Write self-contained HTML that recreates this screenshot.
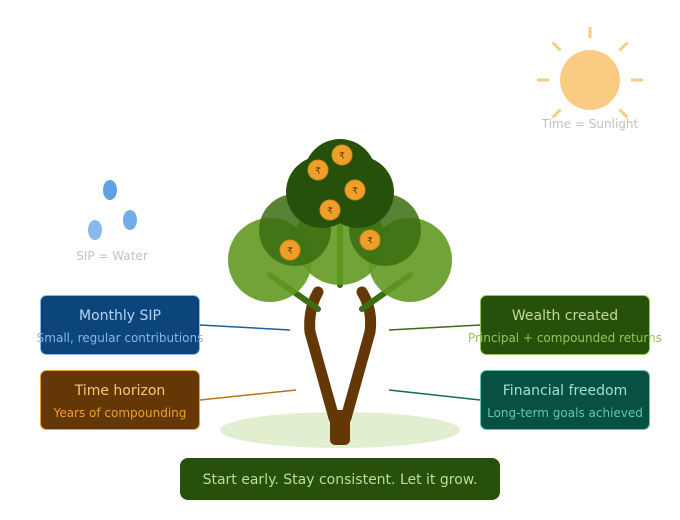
<!DOCTYPE html>
<html>
<head>
<meta charset="utf-8">
<style>
  html,body{margin:0;padding:0;background:#ffffff;}
  svg{display:block;}
  text{font-family:"DejaVu Sans","Liberation Sans",sans-serif;}
</style>
</head>
<body>
<svg width="680" height="520" viewBox="0 0 680 520" xmlns="http://www.w3.org/2000/svg">
  <!-- Sun -->
  <g stroke="#fac775" stroke-width="3" stroke-linecap="butt" opacity="0.9">
    <line x1="590" y1="27" x2="590" y2="38"/>
    <line x1="537" y1="80" x2="549" y2="80"/>
    <line x1="631" y1="80" x2="643" y2="80"/>
    <line x1="552.5" y1="42.5" x2="560.5" y2="50.5"/>
    <line x1="627.5" y1="42.5" x2="619.5" y2="50.5"/>
    <line x1="552.5" y1="117.5" x2="560.5" y2="109.5"/>
    <line x1="627.5" y1="117.5" x2="619.5" y2="109.5"/>
  </g>
  <circle cx="590" cy="80" r="30" fill="#fac775" opacity="0.9"/>
  <text x="590" y="128" font-size="12" fill="#c4c2ba" text-anchor="middle">Time = Sunlight</text>

  <!-- Water drops -->
  <ellipse cx="110" cy="190" rx="7" ry="10" fill="#378add" opacity="0.8"/>
  <ellipse cx="130" cy="220" rx="7" ry="10" fill="#378add" opacity="0.7"/>
  <ellipse cx="95" cy="230" rx="7" ry="10" fill="#378add" opacity="0.6"/>
  <text x="112" y="260" font-size="12" fill="#c4c2ba" text-anchor="middle">SIP = Water</text>

  <!-- Ground -->
  <ellipse cx="340" cy="430" rx="120" ry="18" fill="#e1efd0"/>

  <!-- Trunk -->
  <rect x="330" y="410" width="20" height="35" rx="5" fill="#633806"/>
  <g fill="none" stroke="#633806" stroke-width="11" stroke-linecap="round" stroke-linejoin="round">
    <path d="M318 292 Q308 310 310 332 L334 418"/>
    <path d="M362 292 Q373 310 370 332 L346 418"/>
  </g>

  <!-- Twigs -->
  <g stroke="#3b6d11" stroke-width="6" stroke-linecap="round">
    <line x1="270" y1="275" x2="318" y2="309"/>
    <line x1="410" y1="275" x2="362" y2="309"/>
    <line x1="340" y1="215" x2="340" y2="285"/>
  </g>

  <!-- Leaves -->
  <circle cx="270" cy="260" r="42" fill="#639922" opacity="0.9"/>
  <circle cx="410" cy="260" r="42" fill="#639922" opacity="0.9"/>
  <circle cx="340" cy="240" r="45" fill="#639922" opacity="0.9"/>
  <circle cx="295" cy="230" r="36" fill="#3b6d11" opacity="0.85"/>
  <circle cx="385" cy="230" r="36" fill="#3b6d11" opacity="0.85"/>
  <circle cx="322" cy="192" r="36" fill="#27500a"/>
  <circle cx="358" cy="192" r="36" fill="#27500a"/>
  <circle cx="340" cy="175" r="36" fill="#27500a"/>

  <!-- Coins -->
  <g stroke="#d58a1f" stroke-width="1" fill="#ef9f27">
    <circle cx="342" cy="155" r="10"/>
    <circle cx="318" cy="170" r="10"/>
    <circle cx="355" cy="190" r="10"/>
    <circle cx="330" cy="210" r="10"/>
    <circle cx="370" cy="240" r="10"/>
    <circle cx="290" cy="250" r="10"/>
  </g>
  <g font-size="9" fill="#633806" text-anchor="middle">
    <text x="342" y="158.5">₹</text>
    <text x="318" y="173.5">₹</text>
    <text x="355" y="193.5">₹</text>
    <text x="330" y="213.5">₹</text>
    <text x="370" y="243.5">₹</text>
    <text x="290" y="253.5">₹</text>
  </g>

  <!-- Connectors -->
  <line x1="200" y1="325" x2="290" y2="330" stroke="#185fa5" stroke-width="1.5"/>
  <line x1="200" y1="400" x2="296" y2="390" stroke="#ba7517" stroke-width="1.5"/>
  <line x1="389" y1="330" x2="480" y2="325" stroke="#3b6d11" stroke-width="1.5"/>
  <line x1="389" y1="390" x2="480" y2="400" stroke="#0f6e56" stroke-width="1.5"/>

  <!-- Left boxes -->
  <rect x="40.5" y="295.5" width="159" height="59" rx="6" fill="#0c447c" stroke="#85b7eb" stroke-width="1"/>
  <text x="120" y="320" font-size="14" fill="#b5d4f4" text-anchor="middle">Monthly SIP</text>
  <text x="120" y="342" font-size="12" fill="#85b7eb" text-anchor="middle">Small, regular contributions</text>

  <rect x="40.5" y="370.5" width="159" height="59" rx="6" fill="#633806" stroke="#ef9f27" stroke-width="1"/>
  <text x="120" y="395" font-size="14" fill="#fac775" text-anchor="middle">Time horizon</text>
  <text x="120" y="417" font-size="12" fill="#ef9f27" text-anchor="middle">Years of compounding</text>

  <!-- Right boxes -->
  <rect x="480.5" y="295.5" width="169" height="59" rx="6" fill="#27500a" stroke="#97c459" stroke-width="1"/>
  <text x="565" y="320" font-size="14" fill="#c0dd97" text-anchor="middle">Wealth created</text>
  <text x="565" y="342" font-size="12" fill="#97c459" text-anchor="middle">Principal + compounded returns</text>

  <rect x="480.5" y="370.5" width="169" height="59" rx="6" fill="#085041" stroke="#5dcaa5" stroke-width="1"/>
  <text x="565" y="395" font-size="14" fill="#9fe1cb" text-anchor="middle">Financial freedom</text>
  <text x="565" y="417" font-size="12" fill="#5dcaa5" text-anchor="middle">Long-term goals achieved</text>

  <!-- Banner -->
  <rect x="180" y="458" width="320" height="42" rx="8" fill="#27500a"/>
  <text x="340" y="484" font-size="14" fill="#c0dd97" text-anchor="middle">Start early. Stay consistent. Let it grow.</text>
</svg>
</body>
</html>
